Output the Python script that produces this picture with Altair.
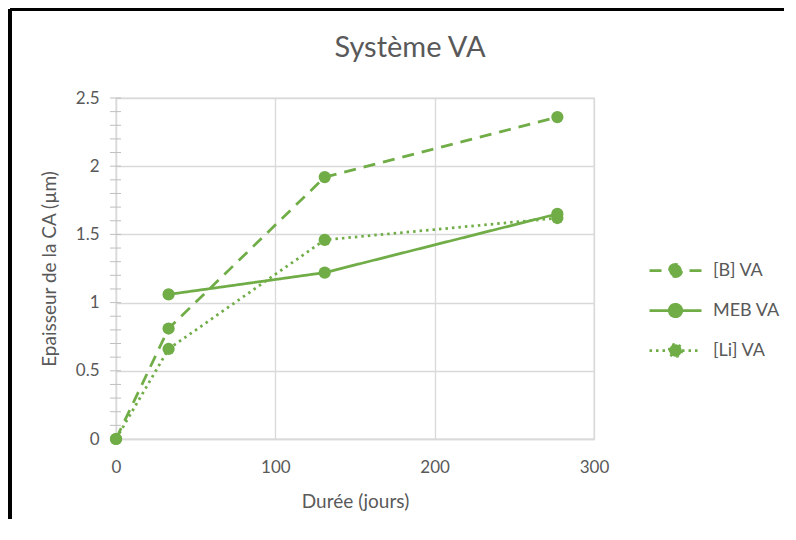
import altair as alt
import pandas as pd

series_names = ["[B] VA", "MEB VA", "[Li] VA"]
b_days = [0, 33, 131, 277]
b_vals = [0.0, 0.81, 1.92, 2.36]
meb_days = [33, 131, 277]
meb_vals = [1.06, 1.22, 1.65]
li_days = [0, 33, 131, 277]
li_vals = [0.0, 0.66, 1.46, 1.62]
x_ticks = [0, 100, 200, 300]
y_ticks = [0, 0.5, 1, 1.5, 2, 2.5]
y_minor = [round(i * 0.1, 1) for i in range(26)]

rows = []
for name, days, vals in [(series_names[0], b_days, b_vals),
                         (series_names[1], meb_days, meb_vals),
                         (series_names[2], li_days, li_vals)]:
    for d, v in zip(days, vals):
        rows.append({"serie": name, "jours": d, "val": v})
df = pd.DataFrame(rows)
minor_df = pd.DataFrame({"m": y_minor})

GREEN = "#70AD47"
FONT = "Lato"
W, H = 478, 341

xs = alt.Scale(domain=[0, 300], nice=False)
ys = alt.Scale(domain=[0, 2.5], nice=False)

sym_path = "M-1,0L1,0M-0.24,0A0.24,0.24,0,1,1,0.24,0A0.24,0.24,0,1,1,-0.24,0Z"

lines = alt.Chart(df).mark_line(color=GREEN, strokeWidth=2.75).encode(
    x=alt.X("jours:Q", scale=xs,
            axis=alt.Axis(values=x_ticks, title="Durée (jours)", grid=True, ticks=False,
                          labelPadding=20, titlePadding=17, format="d",
                          labelFlush=False)),
    y=alt.Y("val:Q", scale=ys,
            axis=alt.Axis(values=y_ticks, title="Epaisseur de la CA (µm)", grid=True,
                          ticks=False, labelPadding=17, titlePadding=16, format="~g",
                          labelFlush=False)),
    strokeDash=alt.StrokeDash(
        "serie:N",
        scale=alt.Scale(domain=series_names, range=[[12, 8], [1, 0], [2.5, 4]]),
        legend=alt.Legend(title=None, orient="none", legendX=532, legendY=145,
                          symbolType=sym_path, symbolSize=2700,
                          symbolStrokeColor=GREEN, symbolFillColor=GREEN,
                          symbolStrokeWidth=2.75, labelFontSize=18,
                          labelColor="#595959", labelFont=FONT, rowPadding=0,
                          labelOffset=10),
    ),
    detail="serie:N",
)

points = alt.Chart(df).mark_point(filled=True, color=GREEN, size=150, opacity=1).encode(
    x=alt.X("jours:Q", scale=xs),
    y=alt.Y("val:Q", scale=ys),
)

minor = alt.Chart(minor_df).mark_rule(color="#BFBFBF", strokeWidth=1).encode(
    x=alt.value(-6), x2=alt.value(5), y=alt.Y("m:Q", scale=ys)
)

border_left = alt.Chart(minor_df).mark_rule(color="black", strokeWidth=2.5).encode(
    x=alt.value(-106), y=alt.value(-89), y2=alt.value(440)
)
border_top = alt.Chart(minor_df).mark_rule(color="black", strokeWidth=2.5).encode(
    x=alt.value(-106), x2=alt.value(675), y=alt.value(-89)
)

chart = alt.layer(border_left, border_top, minor, lines, points).properties(
    width=W, height=H,
    autosize=alt.AutoSizeParams(type="none"),
    padding={"left": 108, "top": 90, "right": 190, "bottom": 80},
    title=alt.Title("Système VA", fontSize=29, font=FONT, color="#595959",
                    fontWeight="normal", anchor="middle", offset=-55, dx=55),
).configure_view(stroke="#D9D9D9", strokeWidth=1.3).configure_axis(
    domainColor="#D9D9D9", gridColor="#D9D9D9", gridWidth=1.3, domainWidth=1.3,
    labelFont=FONT, titleFont=FONT, labelFontSize=17, titleFontSize=19,
    labelColor="#595959", titleColor="#595959", titleFontWeight="normal",
)

chart.save("out.html", embed_options={"renderer": "svg", "actions": False})
